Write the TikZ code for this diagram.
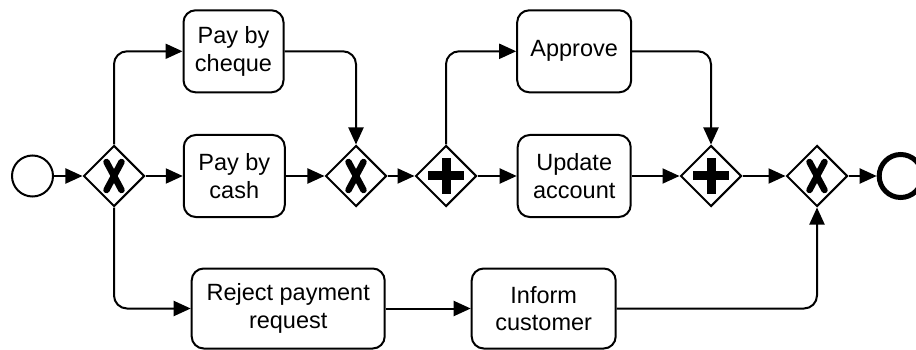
\documentclass[tikz,border=0pt]{standalone}
\usepackage{fontspec}
\setmainfont{Liberation Sans}
\usetikzlibrary{shapes.geometric,arrows.meta}
\begin{document}
\begin{tikzpicture}[x=1pt,y=-1pt,
  task/.style={draw, line width=2pt, rounded corners=12pt, align=center,
    font=\fontsize{23.5}{27.5}\selectfont, inner sep=0pt, minimum height=82pt},
  gw/.style={draw, diamond, line width=2pt, minimum width=61pt, minimum height=61pt,
    inner sep=0pt, aspect=1},
  flow/.style={line width=2pt, -{Triangle[length=17pt,width=15pt]}, rounded corners=13pt},
  xmark/.style={line width=6.5pt, line cap=round},
]
\useasboundingbox (0,0) rectangle (916,350);
\node[circle, draw, line width=2pt, minimum size=41pt, inner sep=0pt] (s) at (32.5,176) {};
\node[gw] (x1) at (114,176) {};
\node[task, minimum width=100pt] (cheque) at (233.5,51.3) {Pay by\\cheque};
\node[task, minimum width=101pt] (cash) at (234.3,176) {Pay by\\cash};
\node[gw] (x2) at (356,176) {};
\node[gw] (a1) at (446,176) {};
\node[task, minimum width=114pt] (approve) at (574.2,51.3) {Approve};
\node[task, minimum width=113pt] (update) at (574.2,176) {Update\\account};
\node[gw] (a2) at (711,176) {};
\node[gw] (x3) at (817,176) {};
\node[circle, draw, line width=5pt, minimum size=43pt, inner sep=0pt] (e) at (900.7,176) {};
\node[task, minimum width=193pt, minimum height=80pt] (reject) at (288.2,308.5) {Reject payment\\request};
\node[task, minimum width=144pt, minimum height=80pt] (inform) at (543.7,308.5) {Inform\\customer};

\foreach \g in {x1,x2,x3}{
  \draw[xmark] ([shift={(-7.5,-14)}]\g.center) -- ([shift={(7.5,14)}]\g.center);
  \draw[xmark] ([shift={(7.5,-14)}]\g.center) -- ([shift={(-7.5,14)}]\g.center);
}
\foreach \g in {a1,a2}{
  \fill ([shift={(-18,-4.5)}]\g.center) rectangle ([shift={(18,4.5)}]\g.center);
  \fill ([shift={(-4.5,-18)}]\g.center) rectangle ([shift={(4.5,18)}]\g.center);
}

\draw[flow] (s) -- (x1);
\draw[flow] (x1.north) |- (cheque.west);
\draw[flow] (x1) -- (cash);
\draw[flow] (x1.south) |- (reject.west);
\draw[flow] (cheque.east) -| (x2.north);
\draw[flow] (cash) -- (x2);
\draw[flow] (x2) -- (a1);
\draw[flow] (a1.north) |- (approve.west);
\draw[flow] (a1) -- (update);
\draw[flow] (approve.east) -| (a2.north);
\draw[flow] (update) -- (a2);
\draw[flow] (a2) -- (x3);
\draw[flow] (x3) -- (e);
\draw[flow] (reject) -- (inform);
\draw[flow] (inform.east) -| (x3.south);
\end{tikzpicture}
\end{document}
